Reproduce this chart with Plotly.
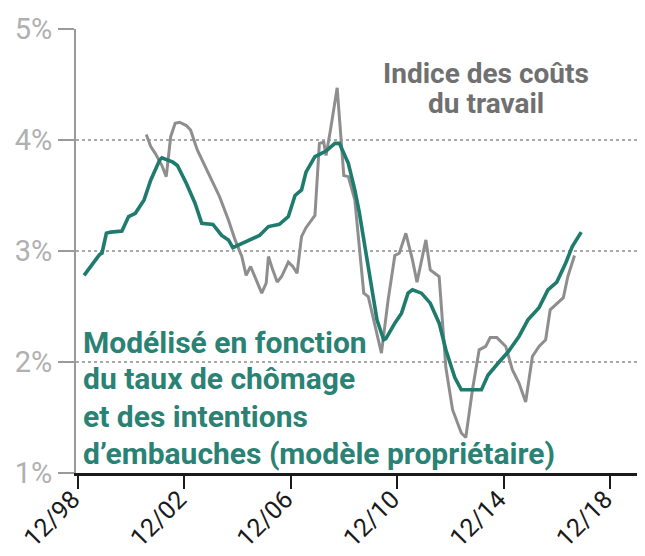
import plotly.graph_objects as go

# --- Data ---
model_dates = ["1999-03", "1999-07", "1999-10", "1999-11", "2000-01", "2000-03", "2000-08", "2000-11",
               "2001-02", "2001-06", "2001-09", "2002-01", "2002-02", "2002-07", "2002-09", "2003-01",
               "2003-05", "2003-08", "2004-01", "2004-05", "2004-08", "2004-10", "2005-02", "2005-06",
               "2005-10", "2006-02", "2006-07", "2006-11", "2007-02", "2007-05", "2007-07", "2007-11",
               "2008-04", "2008-08", "2008-10", "2009-02", "2009-05", "2009-07", "2009-11", "2010-03",
               "2010-06", "2010-07", "2010-11", "2011-02", "2011-05", "2011-07", "2011-11", "2012-03",
               "2012-07", "2012-10", "2013-02", "2013-05", "2014-02", "2014-05", "2014-10", "2015-02",
               "2015-07", "2015-11", "2016-04", "2016-08", "2016-12", "2017-04", "2017-07", "2017-11"]
model_values = [2.78, 2.89, 2.97, 2.98, 3.16, 3.17, 3.18, 3.31,
                3.34, 3.46, 3.64, 3.82, 3.84, 3.80, 3.77, 3.61,
                3.43, 3.25, 3.24, 3.14, 3.10, 3.03, 3.07, 3.10,
                3.14, 3.22, 3.24, 3.31, 3.50, 3.55, 3.71, 3.85,
                3.90, 3.97, 3.97, 3.79, 3.55, 3.35, 2.86, 2.38,
                2.20, 2.21, 2.35, 2.44, 2.62, 2.65, 2.62, 2.53,
                2.35, 2.11, 1.86, 1.75, 1.75, 1.88, 2.00, 2.09,
                2.23, 2.38, 2.49, 2.65, 2.72, 2.89, 3.04, 3.17]

eci_dates = ["2001-07", "2001-09", "2001-11", "2002-02", "2002-04", "2002-06", "2002-08", "2002-10",
             "2003-01", "2003-03", "2003-06", "2003-11", "2004-04", "2004-08", "2004-11", "2005-02",
             "2005-04", "2005-06", "2005-08", "2005-11", "2006-01", "2006-02", "2006-04", "2006-06",
             "2006-08", "2006-11", "2007-01", "2007-03", "2007-05", "2007-07", "2007-11", "2008-01",
             "2008-03", "2008-04", "2008-06", "2008-09", "2008-12", "2009-02", "2009-05", "2009-09",
             "2009-11", "2010-05", "2010-08", "2010-11", "2011-01", "2011-04", "2011-07", "2011-09",
             "2012-01", "2012-03", "2012-05", "2012-07", "2012-10", "2013-01", "2013-05", "2013-07",
             "2013-10", "2014-01", "2014-04", "2014-06", "2014-09", "2015-01", "2015-04", "2015-07",
             "2015-10", "2016-01", "2016-04", "2016-07", "2016-09", "2016-12", "2017-03", "2017-05",
             "2017-08"]
eci_values = [4.05, 3.94, 3.88, 3.77, 3.67, 4.03, 4.15, 4.16,
              4.13, 4.09, 3.91, 3.70, 3.49, 3.28, 3.10, 2.95,
              2.78, 2.86, 2.77, 2.62, 2.71, 2.95, 2.83, 2.72,
              2.77, 2.90, 2.86, 2.80, 3.13, 3.21, 3.32, 3.97,
              3.98, 3.86, 4.09, 4.47, 3.68, 3.67, 3.46, 2.62,
              2.59, 2.08, 2.56, 2.96, 2.98, 3.16, 2.92, 2.72,
              3.10, 2.83, 2.80, 2.77, 1.95, 1.57, 1.36, 1.32,
              1.75, 2.11, 2.14, 2.22, 2.22, 2.14, 1.93, 1.81,
              1.64, 2.05, 2.14, 2.20, 2.47, 2.53, 2.58, 2.77,
              2.96]

x_tick_dates = ["1998-12-01", "2002-12-01", "2006-12-01", "2010-12-01", "2014-12-01", "2018-12-01"]
x_tick_labels = ["12/98", "12/02", "12/06", "12/10", "12/14", "12/18"]
y_tick_values = [1, 2, 3, 4, 5]
y_tick_labels = ["1%", "2%", "3%", "4%", "5%"]

eci_label = ["Indice des coûts", "du travail"]
model_label = ["Modélisé en fonction", "du taux de chômage", "et des intentions",
               "d’embauches (modèle propriétaire)"]

FONT = "Roboto, Liberation Sans, sans-serif"
GREEN = "#1f7b6d"
GREEN_TXT = "#2a8275"
GREY = "#8e8e8e"
GREY_TXT = "#707070"

fig = go.Figure()
fig.add_trace(go.Scatter(x=eci_dates, y=eci_values, mode="lines",
                         line=dict(color=GREY, width=3), hoverinfo="skip", showlegend=False))
fig.add_trace(go.Scatter(x=model_dates, y=model_values, mode="lines",
                         line=dict(color=GREEN, width=3.6), hoverinfo="skip", showlegend=False))

annotations = []
title_y = [0.899, 0.833]
for txt, yy in zip(eci_label, title_y):
    annotations.append(dict(text=txt, xref="paper", yref="paper", x=0.7206, y=yy,
                            xanchor="center", yanchor="middle", showarrow=False,
                            font=dict(family=FONT, size=28, color=GREY_TXT, weight="bold")))
model_y = [0.294, 0.213, 0.127, 0.044]
for txt, yy in zip(model_label, model_y):
    annotations.append(dict(text=txt, xref="paper", yref="paper", x=0.008, y=yy,
                            xanchor="left", yanchor="middle", showarrow=False,
                            font=dict(family=FONT, size=30, color=GREEN_TXT, weight="bold")))

# The page body adds an 8px margin, so the figure is sized/margined to land the
# plot area at the same on-screen position as the reference.
fig.update_layout(
    width=637, height=548,
    margin=dict(l=68, r=0, t=21, b=83),
    paper_bgcolor="white", plot_bgcolor="white",
    annotations=annotations,
    xaxis=dict(range=["1998-11-10", "2020-03-25"], tickmode="array", automargin=False,
               tickvals=x_tick_dates, ticktext=x_tick_labels, tickangle=-45,
               ticklabelstandoff=-14, ticklabelshift=-5,
               showgrid=False, zeroline=False,
               showline=True, linecolor="#1a1a1a", linewidth=2.5,
               ticks="outside", ticklen=13, tickwidth=2, tickcolor="#1a1a1a",
               tickfont=dict(family=FONT, size=25, color="#1a1a1a")),
    yaxis=dict(range=[1, 5], tickmode="array", tickvals=y_tick_values, ticktext=y_tick_labels,
               automargin=False,
               showgrid=True, gridcolor="#a8a8a8", griddash="dot", gridwidth=1.5,
               zeroline=False, showline=True, linecolor="#9a9a9a", linewidth=2,
               ticks="outside", ticklen=16, tickwidth=2, tickcolor="#9a9a9a",
               tickfont=dict(family=FONT, size=29, color="#b0b0b0")),
)

fig.write_html("out.html")
